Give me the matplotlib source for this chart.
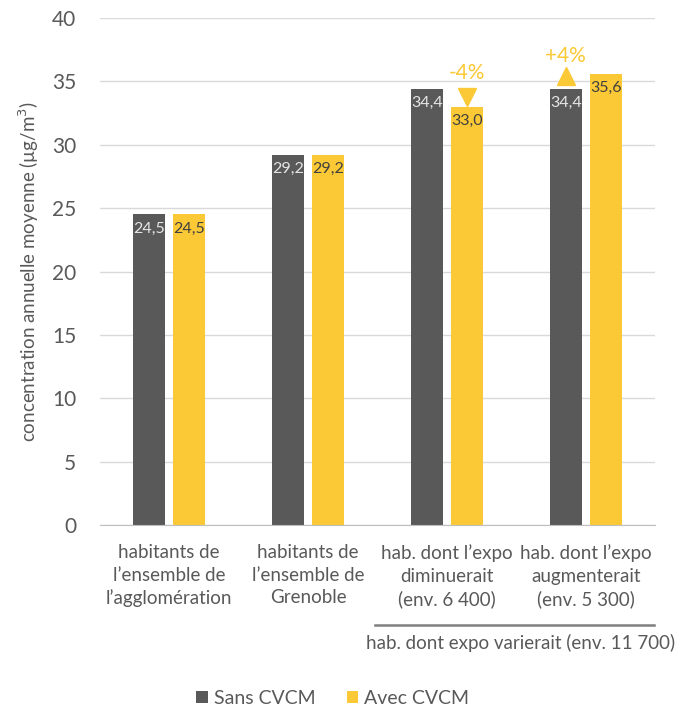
import numpy as np
from matplotlib import pyplot as plt

categories = ["habitants de\nl\u2019ensemble de\nl\u2019agglom\u00e9ration",
              "habitants de\nl\u2019ensemble de\nGrenoble",
              "hab. dont l\u2019expo\ndiminuerait\n(env. 6 400)",
              "hab. dont l\u2019expo\naugmenterait\n(env. 5 300)"]
sans_cvcm = [24.5, 29.2, 34.4, 34.4]
avec_cvcm = [24.5, 29.2, 33.0, 35.6]
series_names = ["Sans CVCM", "Avec CVCM"]
group_label = "hab. dont expo varierait (env. 11 700)"
changes = ["-4%", "+4%"]

DARK = "#595959"
GOLD = "#FBC935"
TEXT = "#595959"

plt.rcParams['font.family'] = ['Lato', 'DejaVu Sans']

fig = plt.figure(figsize=(6.79, 7.08), dpi=100)
ax = fig.add_axes([0.147, 0.2585, 0.818, 0.716])

x = np.arange(len(categories))
w = 0.23
off = 0.144
b1 = ax.bar(x - off, sans_cvcm, w, color=DARK, label=series_names[0], zorder=2)
b2 = ax.bar(x + off, avec_cvcm, w, color=GOLD, label=series_names[1], zorder=2)

def fmt(v):
    return f"{v:.1f}".replace(".", ",")

for rect, v in zip(b1, sans_cvcm):
    ax.text(rect.get_x() + rect.get_width() / 2, v - 0.55, fmt(v),
            ha="center", va="top", color="#e6e6e6", fontsize=11.5)
for rect, v in zip(b2, avec_cvcm):
    ax.text(rect.get_x() + rect.get_width() / 2, v - 0.55, fmt(v),
            ha="center", va="top", color="#404040", fontsize=11.5)

# change markers
ax.plot(x[2] + off, 33.8, marker="v", ms=13, color=GOLD, zorder=3)
ax.text(x[2] + off, 35.65, changes[0], ha="center", va="center",
        color=GOLD, fontsize=15)
ax.plot(x[3] - off, 35.4, marker="^", ms=13, color=GOLD, zorder=3)
ax.text(x[3] - off, 37.0, changes[1], ha="center", va="center",
        color=GOLD, fontsize=15)

ax.set_xlim(-0.5, 3.5)
ax.set_ylim(0, 40)
ax.set_yticks(np.arange(0, 41, 5))
ax.grid(axis="y", color="#d9d9d9", lw=1, zorder=0)
for s in ["top", "right", "left"]:
    ax.spines[s].set_visible(False)
ax.spines["bottom"].set_color("#bfbfbf")
ax.tick_params(axis="y", length=0, labelsize=15, colors=TEXT, pad=17)
ax.tick_params(axis="x", length=0, labelsize=13.5, colors=TEXT, pad=14)
ax.set_xticks(x)
ax.set_xticklabels(categories, linespacing=1.38)
ax.set_ylabel("concentration annuelle moyenne (\u00b5g/m$^3$)",
              fontsize=13.5, color=TEXT, labelpad=8)

# group bracket
ax.plot([1.48, 3.49], [-0.197, -0.197], transform=ax.get_xaxis_transform(),
        color="#7f7f7f", lw=1.8, clip_on=False)
ax.text(2.53, -0.233, group_label, transform=ax.get_xaxis_transform(),
        ha="center", va="center", fontsize=13.5, color=TEXT)

fig.legend(handles=[b1, b2], loc="center", bbox_to_anchor=(0.49, 0.014),
           ncol=2, frameon=False, fontsize=14, labelcolor=TEXT,
           handlelength=0.6, handleheight=0.6, handletextpad=0.3,
           columnspacing=1.6)

fig.savefig("out.png", dpi=100)
